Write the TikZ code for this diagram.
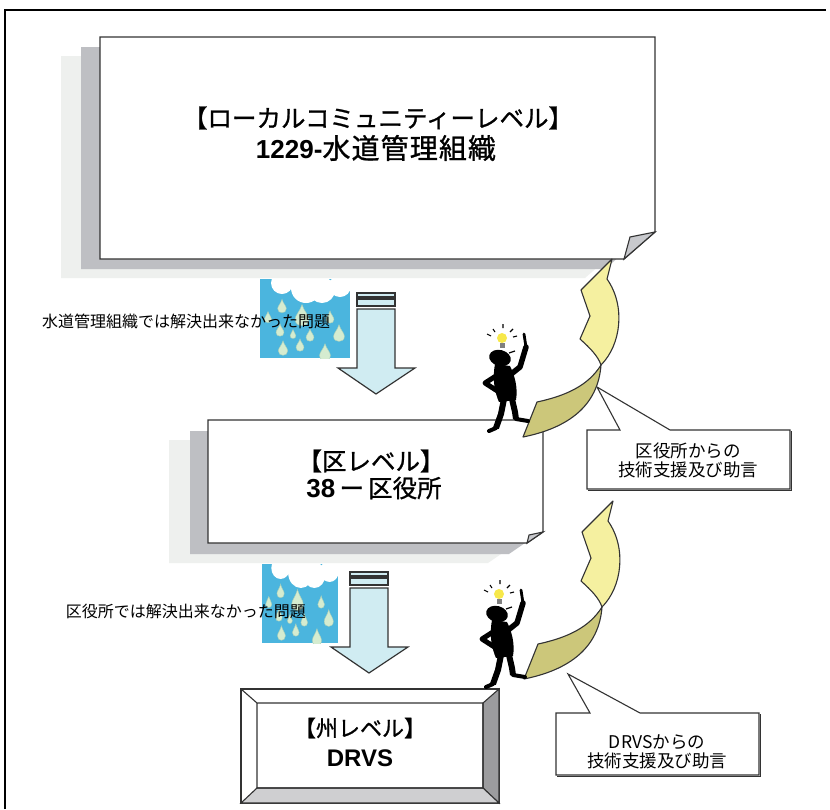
\documentclass[tikz,border=0pt]{standalone}
\usepackage{fontspec}
\setmainfont{Noto Sans CJK JP}
\newfontfamily\jpfont{Noto Sans CJK JP}
\newfontfamily\titlefont{Noto Sans CJK JP}[FakeBold=1]
\newfontfamily\widetitlefont{Noto Sans CJK JP}[FakeBold=1,LetterSpace=4]
\newfontfamily\numfont{Liberation Sans}
\definecolor{rainblue}{HTML}{4BB5DE}
\definecolor{dropc}{HTML}{D5ECD0}
\definecolor{dropedge}{HTML}{A9CFB8}
\definecolor{arrowfill}{HTML}{D0ECF2}
\definecolor{curlyellow}{HTML}{F5F0A0}
\definecolor{curlolive}{HTML}{CCC77A}
\definecolor{shadowdark}{HTML}{BEBFC3}
\definecolor{shadowlight}{HTML}{EEF0EE}
\definecolor{flapgray}{HTML}{C8C9CD}
\definecolor{bevelright}{HTML}{9C9C9E}
\definecolor{bevelbottom}{HTML}{CFCFD1}
\definecolor{outline}{HTML}{333333}
\definecolor{bulb}{HTML}{F7E84A}

% a rain drop, pointed at the top: x, y, size
\newcommand\raindrop[3]{%
  \path[fill=dropc,draw=dropedge,line width=0.4,shift={(#1,#2)},scale=#3]
    (0,-5.5) .. controls (1,-2) and (3.6,0) .. (3.6,2.2)
    .. controls (3.6,4.6) and (1.9,5.6) .. (0,5.6)
    .. controls (-1.9,5.6) and (-3.6,4.6) .. (-3.6,2.2)
    .. controls (-3.6,0) and (-1,-2) .. cycle;}

% rain panel, 90 x 79, top left corner at the origin
\newcommand\rainpanel{%
  \begin{scope}
    \clip (0,0) rectangle (90,79);
    \fill[rainblue] (0,0) rectangle (90,79);
    \raindrop{42}{36}{1.9}
    \fill[white] (22,4) circle (11) (36,0) circle (10) (46,9) circle (15)
      (62,11) circle (13) (80,7) circle (11) (92,2) circle (9);
    \raindrop{22}{27}{1.2}\raindrop{20}{51}{1.1}
    \raindrop{50}{56}{1.1}\raindrop{79}{54}{1.5}\raindrop{40}{66}{1.1}\raindrop{23}{69}{1.3}
    \raindrop{65}{73}{1.5}\raindrop{8}{38}{1}\raindrop{70}{38}{1.1}\raindrop{33}{55}{0.8}
  \end{scope}}

% down arrow with two stripes above the shaft
\newcommand\flowarrow{%
  \draw[flow] (357,293) rectangle (395,297);
  \draw[flow] (357,299) rectangle (395,306);
  \draw[flow] (357,309) -- (395,309) -- (395,368) -- (415,368) -- (376,394)
    -- (338,368) -- (357,368) -- cycle;}

% twisted curved arrow pointing up
\newcommand\curlarrow{%
  \path[curl,fill=curlolive] (601,365) .. controls (588,386) and (565,396) .. (537,402)
    -- (523,437) .. controls (568,428) and (598,406) .. (601,365);
  \path[curl,fill=curlyellow] (612,259) -- (581,290) -- (590,316) -- (580,339)
    .. controls (590,348) and (598,356) .. (601,365)
    .. controls (621,345) and (626,306) .. (607,279) -- cycle;}

% figure with a light bulb over its head
\newcommand\thinker{%
  \fill[bulb] (502,338) circle (5);
  \fill[gray] (499.5,343) rectangle (504.5,347.5);
  \draw[line width=1.1] (487,334) -- (491,336) (493,329) -- (495,332)
    (503,324) -- (503,328) (513,329) -- (510,332) (517,336) -- (513,337);
  \fill[rotate around={-15:(500,358)}] (500,358) ellipse [x radius=11, y radius=8];
  \draw[line width=1.2] (509,353) -- (515,351);
  \fill (495,364) .. controls (492,380) and (495,393) .. (499,402) -- (516,400)
    .. controls (518,388) and (515,376) .. (510,366) -- cycle;
  \draw[line width=5.5,line cap=round,line join=round] (510,375) -- (520,367) -- (526,347);
  \draw[line width=2.8,line cap=round] (526,347) -- (524,334);
  \draw[line width=5,line cap=round,line join=round] (499,374) -- (485,383) -- (499,392);
  \draw[line width=6,line join=round] (504,399) -- (501,414) -- (496,428);
  \draw[line width=4,line cap=round] (496,428) -- (489,431);
  \draw[line width=6,line join=round] (512,399) -- (515,412) -- (516,419);
  \draw[line width=4,line cap=round] (516,419) -- (528,421);}

\begin{document}
\begin{tikzpicture}[x=1pt,y=-1pt,
  page/.style={fill=white,draw=outline,line width=1.3},
  flap/.style={fill=flapgray,draw=outline,line width=1.1},
  flow/.style={fill=arrowfill,draw=outline,line width=1.2},
  curl/.style={draw=outline,line width=1.1,line join=round},
  callout/.style={fill=white,draw=outline,line width=1.1},
  titletext/.style={inner sep=0,font=\titlefont\fontsize{24.5}{28}\selectfont},
  labeltext/.style={inner sep=0,font=\jpfont\fontsize{16}{19}\selectfont},
  notetext/.style={inner sep=0,font=\jpfont\fontsize{17.5}{20}\selectfont}]
\useasboundingbox (0,0) rectangle (830,809);
\fill[white] (0,0) rectangle (830,809);

% outer frame
\draw[line width=2] (5,809) -- (5,10) -- (826,10);

% top page: shadows, sheet and curled corner
\fill[shadowlight] (61,56) -- (616,56) -- (616,251) -- (585,278) -- (61,278) -- cycle;
\fill[shadowdark] (81,47) -- (636,47) -- (636,242) -- (605,269) -- (81,269) -- cycle;
\path[page] (100,37) -- (655,37) -- (655,232) -- (624,259) -- (100,259) -- cycle;
\path[flap] (655,232) -- (630,237) -- (624,259) -- cycle;
\node[titletext] (toptitle) at (378,118) {【ローカルコミュニティーレベル】};
\node[titletext] (topname) at (376,148)
  {{\numfont\bfseries\fontsize{26}{28}\selectfont 1229-}{\widetitlefont\fontsize{28}{30}\selectfont 水道管理組織}};

% middle page
\fill[shadowlight] (169,440) -- (504,440) -- (504,552) -- (488,563) -- (169,563) -- cycle;
\fill[shadowdark] (190,431) -- (525,431) -- (525,543) -- (509,554) -- (190,554) -- cycle;
\path[page] (208,420) -- (543,420) -- (543,532) -- (527,543) -- (208,543) -- cycle;
\path[flap] (543,532) -- (529,535) -- (527,543) -- cycle;
\node[titletext] (midtitle) at (371,461) {【区レベル】};
\node[titletext] (midname) at (374,488)
  {{\numfont\bfseries\fontsize{26}{28}\selectfont 38\,}ー\,区役所};

% bottom bevelled box
\path[fill=white,draw=outline,line width=1.1] (241,689) rectangle (499,803);
\path[fill=bevelright,draw=outline,line width=1.1] (499,689) -- (483,703) -- (483,788) -- (499,803) -- cycle;
\path[fill=bevelbottom,draw=outline,line width=1.1] (241,803) -- (257,788) -- (483,788) -- (499,803) -- cycle;
\draw[outline,line width=1.1] (241,689) -- (257,703) rectangle (483,788);
\node[titletext,font=\titlefont\fontsize{22}{26}\selectfont] (lowtitle) at (360,728) {【州レベル】};
\node[titletext] (lowname) at (360,758) {\numfont\bfseries\fontsize{24}{26}\selectfont DRVS};

% rain panels and unsolved-problem labels
\begin{scope}[shift={(260,279)}]\rainpanel\end{scope}
\begin{scope}[shift={(262,564)},xscale=0.845]\rainpanel\end{scope}
\node[labeltext,anchor=west] (prob1) at (42,321) {水道管理組織では解決出来なかった問題};
\node[labeltext,anchor=east] (prob2) at (306,611) {区役所では解決出来なかった問題};

% downward arrows
\flowarrow
\begin{scope}[shift={(-7,279)}]\flowarrow\end{scope}

% advice callouts
\path[callout] (587,430) -- (620,430) -- (597,387) -- (670,430) -- (790,430)
  -- (790,489) -- (587,489) -- cycle;
\draw[outline,line width=0.8] (791.5,431) -- (791.5,490.5) -- (588,490.5);
\node[notetext] (note1a) at (688,451) {区役所からの};
\node[notetext] (note1b) at (688,470) {技術支援及び助言};

\path[callout] (556,713) -- (590,713) -- (568,674) -- (640,713) -- (759,713)
  -- (759,775) -- (556,775) -- cycle;
\draw[outline,line width=0.8] (760.5,714) -- (760.5,776.5) -- (557,776.5);
\node[notetext] (note2a) at (657,742) {DRVSからの};
\node[notetext] (note2b) at (657,761) {技術支援及び助言};

% curved support arrows
\curlarrow
\begin{scope}[shift={(1,242)}]\curlarrow\end{scope}

% figures standing on the pages
\thinker
\begin{scope}[shift={(-3,256)}]\thinker\end{scope}
\end{tikzpicture}
\end{document}
